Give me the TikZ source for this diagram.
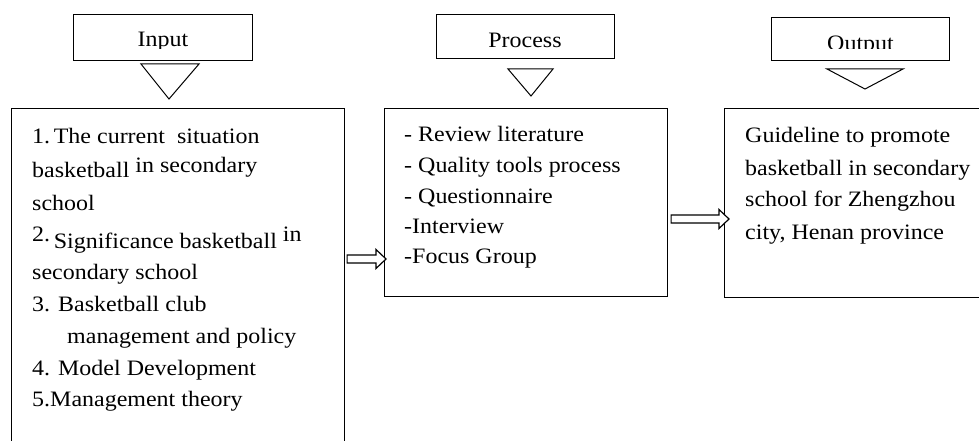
\documentclass[tikz,border=0pt]{standalone}
\usepackage{fontspec}
\setmainfont{Liberation Serif}[FakeStretch=1.09]
\usetikzlibrary{calc}
\tikzset{
  txt/.style={anchor=base west, inner sep=0pt, font=\fontsize{22pt}{26pt}\selectfont},
  htxt/.style={anchor=base, inner sep=0pt, font=\fontsize{22pt}{26pt}\selectfont},
  hbox/.style={draw, line width=1.2pt, inner sep=0pt, anchor=north west},
  mbox/.style={draw, line width=1.1pt, inner sep=0pt, anchor=north west},
  tri/.style={draw, line width=1pt, line join=miter},
  arrowline/.style={draw, line width=1.2pt, line join=miter, fill=white}
}
\newcommand\hollowarrow[2]{%
  \draw[arrowline] let \p1=(#1), \p2=(#2) in
    (\x1,\y1+4pt) -- (\x2-10pt,\y1+4pt) -- (\x2-10pt,\y1+9.5pt) -- (\x2,\y1)
    -- (\x2-10pt,\y1-9.5pt) -- (\x2-10pt,\y1-4pt) -- (\x1,\y1-4pt) -- cycle;}
\begin{document}
\begin{tikzpicture}[x=1pt,y=-1pt]
\useasboundingbox (0,0) rectangle (979,441);

% header boxes
\node[hbox, minimum width=179pt, minimum height=46pt] (hin) at (73,14) {};
\node[hbox, minimum width=178pt, minimum height=44pt] (hproc) at (436,14) {};
\node[hbox, minimum width=178pt, minimum height=43pt] (hout) at (771,17) {};
\begin{scope}
  \clip (73,14) rectangle (252,48.5);
  \node[htxt] (tin) at (163,47) {Input};
\end{scope}
\node[htxt] (tproc) at (525,48) {Process};
\begin{scope}
  \clip (771,17) rectangle (949,48.5);
  \node[htxt] (tout) at (860.5,51) {Output};
\end{scope}

% triangles
\draw[tri] (141,64) -- (199,64) -- (169,99) -- cycle;
\draw[tri] (508,69) -- (553,69) -- (531,96) -- cycle;
\draw[tri] (827,69) -- (903,69) -- (865,89) -- cycle;

% main boxes
\node[mbox, minimum width=333pt, minimum height=360pt] (inbox) at (11,108) {};
\node[mbox, minimum width=283pt, minimum height=188pt] (procbox) at (384,108) {};
\node[mbox, minimum width=270pt, minimum height=189pt] (outbox) at (724,108) {};

% input text
\node[txt] (i1) at (32,143) {1.\,The current\ \ situation};
\node[txt] (i2) at (32,177) {basketball \raisebox{5pt}{in secondary}};
\node[txt] (i3) at (32,210.5) {school};
\node[txt] (i4) at (32,248) {\raisebox{7pt}{2.}\,Significance basketball \raisebox{7pt}{in}};
\node[txt] (i5) at (32,279.5) {secondary school};
\node[txt] (i6) at (32,311.5) {3. Basketball club};
\node[txt] (i7) at (67,343) {management and policy};
\node[txt] (i8) at (32,375) {4. Model Development};
\node[txt] (i9) at (32,406) {5.Management theory};

% process text
\node[txt] (p1) at (404,142) {- Review literature};
\node[txt] (p2) at (404,172.5) {- Quality tools process};
\node[txt] (p3) at (404,203.5) {- Questionnaire};
\node[txt] (p4) at (404,233) {-Interview};
\node[txt] (p5) at (404,263) {-Focus Group};

% output text
\node[txt] (o1) at (745,142.7) {Guideline to promote};
\node[txt] (o2) at (745,175) {basketball in secondary};
\node[txt] (o3) at (745,206.7) {school for Zhengzhou};
\node[txt] (o4) at (745,239) {city, Henan province};

% connectors
\path (inbox.east |- 0,259) ++(2,0) coordinate (a1s);
\path (procbox.west |- a1s) ++(2,0) coordinate (a1e);
\path (procbox.east |- 0,219) ++(3,0) coordinate (a2s);
\path (outbox.west |- a2s) ++(5,0) coordinate (a2e);
\hollowarrow{a1s}{a1e}
\hollowarrow{a2s}{a2e}
\end{tikzpicture}
\end{document}
